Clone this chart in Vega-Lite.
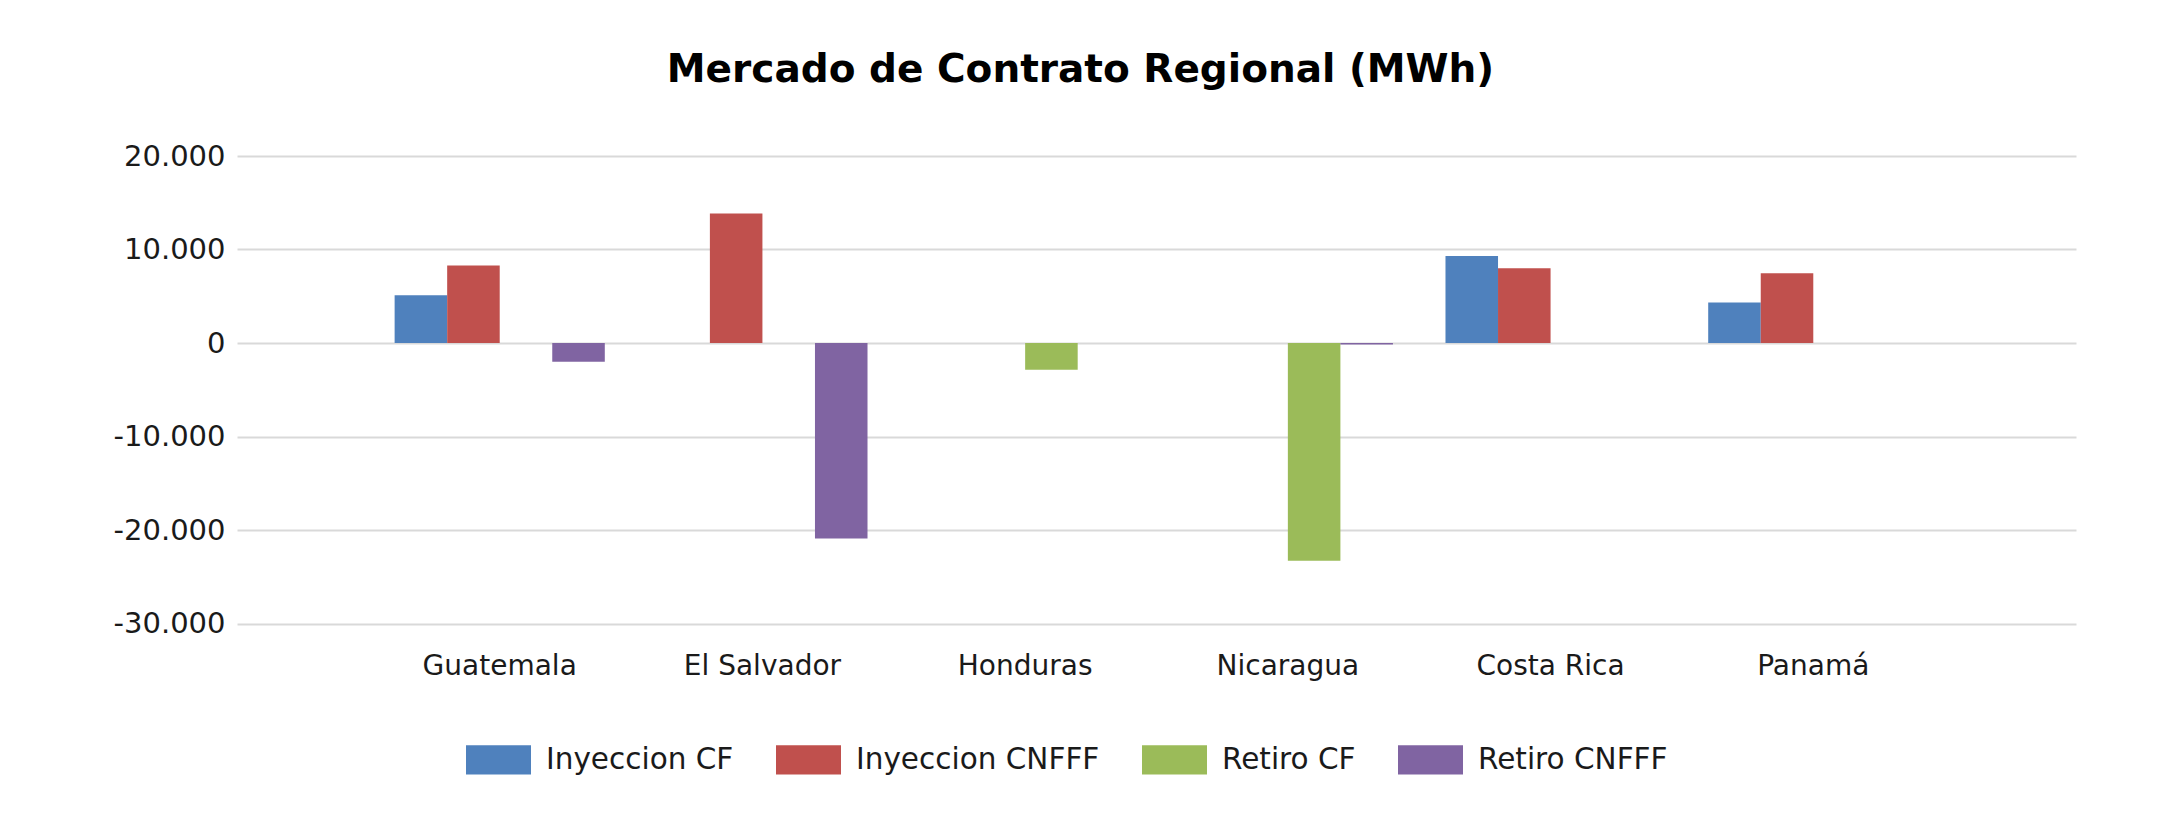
{
  "$schema": "https://vega.github.io/schema/vega-lite/v6.json",
  "autosize": {"type": "none"},
  "width": 1839,
  "height": 467.5,
  "padding": {"left": 237, "top": 156, "right": 87, "bottom": 199.5},
  "background": "white",
  "title": {
    "text": "Mercado de Contrato Regional (MWh)",
    "anchor": "middle",
    "dx": -76,
    "font": "DejaVu Sans",
    "fontSize": 39,
    "fontWeight": "bold",
    "color": "#000000",
    "baseline": "alphabetic",
    "offset": 21
  },
  "data": {
    "values": [
      {"pais": "Guatemala", "serie": "Inyeccion CF", "valor": 5100},
      {"pais": "Guatemala", "serie": "Inyeccion CNFFF", "valor": 8300},
      {"pais": "Guatemala", "serie": "Retiro CNFFF", "valor": -2000},
      {"pais": "El Salvador", "serie": "Inyeccion CNFFF", "valor": 13850},
      {"pais": "El Salvador", "serie": "Retiro CNFFF", "valor": -20900},
      {"pais": "Honduras", "serie": "Retiro CF", "valor": -2850},
      {"pais": "Nicaragua", "serie": "Retiro CF", "valor": -23300},
      {"pais": "Nicaragua", "serie": "Retiro CNFFF", "valor": -150},
      {"pais": "Costa Rica", "serie": "Inyeccion CF", "valor": 9300},
      {"pais": "Costa Rica", "serie": "Inyeccion CNFFF", "valor": 8000},
      {"pais": "Panamá", "serie": "Inyeccion CF", "valor": 4330},
      {"pais": "Panamá", "serie": "Inyeccion CNFFF", "valor": 7450}
    ]
  },
  "mark": {"type": "bar"},
  "encoding": {
    "x": {
      "field": "pais",
      "type": "nominal",
      "sort": ["Guatemala", "El Salvador", "Honduras", "Nicaragua", "Costa Rica", "Panamá"],
      "scale": {"paddingInner": 0, "paddingOuter": 0.5},
      "axis": {
        "title": null,
        "labelAngle": 0,
        "domain": false,
        "ticks": false,
        "grid": false,
        "labelPadding": 29,
        "labelFont": "DejaVu Sans",
        "labelFontSize": 28,
        "labelColor": "#1a1a1a"
      }
    },
    "xOffset": {
      "field": "serie",
      "type": "nominal",
      "scale": {
        "domain": ["Inyeccion CF", "Inyeccion CNFFF", "Retiro CF", "Retiro CNFFF"],
        "paddingInner": 0,
        "paddingOuter": 0.5
      }
    },
    "y": {
      "field": "valor",
      "type": "quantitative",
      "scale": {"domain": [-30000, 20000], "nice": false, "zero": true},
      "axis": {
        "title": null,
        "values": [-30000, -20000, -10000, 0, 10000, 20000],
        "format": ",.0f",
        "domain": false,
        "ticks": false,
        "grid": true,
        "gridColor": "#d9d9d9",
        "gridWidth": 2,
        "labelPadding": 12,
        "labelFont": "DejaVu Sans",
        "labelFontSize": 29,
        "labelColor": "#1a1a1a"
      }
    },
    "color": {
      "field": "serie",
      "type": "nominal",
      "scale": {
        "domain": ["Inyeccion CF", "Inyeccion CNFFF", "Retiro CF", "Retiro CNFFF"],
        "range": ["#4f81bd", "#c0504d", "#9bbb59", "#8064a2"]
      },
      "legend": {
        "title": null,
        "orient": "none",
        "legendX": 229,
        "legendY": 571,
        "direction": "horizontal",
        "columns": 4,
        "columnPadding": 42,
        "symbolType": "M-1,-0.45H1V0.45H-1Z",
        "symbolSize": 4225,
        "symbolStrokeWidth": 0,
        "labelOffset": 15,
        "labelFont": "DejaVu Sans",
        "labelFontSize": 29.5,
        "labelColor": "#1a1a1a",
        "labelLimit": 400
      }
    }
  },
  "config": {
    "locale": {
      "number": {"decimal": ",", "thousands": ".", "grouping": [3], "currency": ["", ""], "minus": "-"}
    },
    "view": {"stroke": null}
  }
}
